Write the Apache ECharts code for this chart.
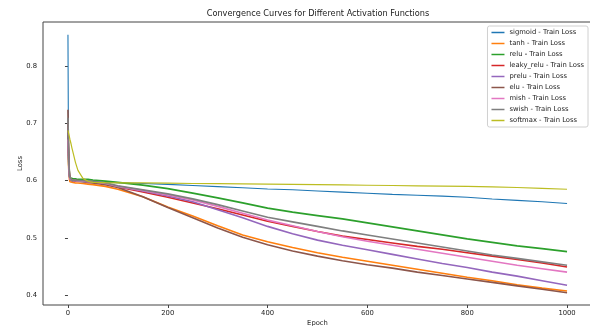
<!DOCTYPE html>
<html>
<head>
<meta charset="utf-8">
<script src="https://cdn.jsdelivr.net/npm/echarts@6.0.0/dist/echarts.min.js"></script>
<style>
html,body{margin:0;padding:0;background:#fff;}
#chart{width:590px;height:326px;}
</style>
</head>
<body>
<div id="chart"></div>
<script>
// ---- data ----
const epochs = [0,1,2,3,4,6,8,10,15,20,30,40,50,75,100,150,200,250,300,350,400,450,500,550,600,650,700,750,800,850,900,950,1000];

const sigmoid = [0.855,0.660,0.615,0.605,0.602,0.600,0.600,0.599,0.599,0.599,0.598,0.598,0.598,0.597,0.5965,0.595,0.5935,0.5915,0.5895,0.5875,0.5855,0.584,0.582,0.580,0.578,0.576,0.5745,0.573,0.571,0.568,0.5655,0.563,0.560];
const tanh = [0.660,0.630,0.612,0.602,0.598,0.597,0.597,0.597,0.596,0.596,0.595,0.594,0.593,0.590,0.585,0.572,0.554,0.538,0.521,0.505,0.493,0.483,0.474,0.466,0.459,0.452,0.445,0.438,0.431,0.425,0.418,0.412,0.407];
const relu = [0.680,0.645,0.622,0.610,0.605,0.603,0.603,0.603,0.603,0.602,0.602,0.602,0.601,0.599,0.597,0.592,0.586,0.578,0.570,0.561,0.552,0.545,0.539,0.533,0.526,0.519,0.512,0.505,0.498,0.492,0.486,0.481,0.476];
const leakyRelu = [0.700,0.655,0.625,0.610,0.604,0.602,0.601,0.601,0.600,0.600,0.599,0.598,0.597,0.594,0.589,0.580,0.571,0.561,0.551,0.540,0.529,0.520,0.511,0.503,0.497,0.491,0.485,0.480,0.474,0.468,0.462,0.456,0.449];
const prelu = [0.690,0.648,0.622,0.608,0.603,0.601,0.600,0.600,0.600,0.599,0.599,0.598,0.598,0.595,0.590,0.582,0.573,0.563,0.549,0.535,0.520,0.507,0.496,0.487,0.479,0.471,0.463,0.455,0.448,0.440,0.433,0.425,0.417];
const elu = [0.724,0.665,0.630,0.612,0.604,0.601,0.600,0.600,0.599,0.599,0.598,0.597,0.596,0.593,0.588,0.572,0.553,0.535,0.517,0.501,0.488,0.477,0.468,0.460,0.453,0.447,0.440,0.434,0.428,0.422,0.416,0.410,0.404];
const mish = [0.672,0.640,0.618,0.607,0.603,0.601,0.600,0.600,0.600,0.599,0.599,0.598,0.598,0.595,0.590,0.583,0.575,0.566,0.555,0.543,0.531,0.521,0.511,0.502,0.494,0.487,0.480,0.473,0.466,0.459,0.452,0.446,0.440];
const swish = [0.710,0.660,0.628,0.611,0.605,0.602,0.601,0.601,0.601,0.600,0.600,0.599,0.599,0.596,0.591,0.584,0.577,0.568,0.558,0.547,0.536,0.528,0.520,0.512,0.505,0.498,0.491,0.484,0.477,0.470,0.464,0.458,0.452];
const softmax = [0.688,0.684,0.680,0.676,0.672,0.665,0.657,0.650,0.632,0.618,0.604,0.599,0.597,0.5965,0.5962,0.596,0.5955,0.595,0.5948,0.5944,0.594,0.5935,0.593,0.5925,0.592,0.5915,0.591,0.5905,0.590,0.589,0.588,0.5865,0.585];

const seriesNames = ['sigmoid - Train Loss','tanh - Train Loss','relu - Train Loss','leaky_relu - Train Loss','prelu - Train Loss','elu - Train Loss','mish - Train Loss','swish - Train Loss','softmax - Train Loss'];
const seriesValues = [sigmoid, tanh, relu, leakyRelu, prelu, elu, mish, swish, softmax];
const colors = ['#1f77b4','#ff7f0e','#2ca02c','#d62728','#9467bd','#8c564b','#e377c2','#7f7f7f','#bcbd22'];
const lineWidths = [1.1, 1.6, 1.8, 1.6, 1.6, 1.6, 1.6, 1.7, 1.2];

const xTicks = [0,200,400,600,800,1000];
const yTicks = [0.4,0.5,0.6,0.7,0.8];

const FONT = 'DejaVu Sans';
const chart = echarts.init(document.getElementById('chart'), null, {renderer:'canvas'});

const series = seriesNames.map((name, i) => ({
  name: name,
  type: 'line',
  data: epochs.map((e, j) => [e, seriesValues[i][j]]),
  symbol: 'none',
  showSymbol: false,
  lineStyle: {width: lineWidths[i], color: colors[i]},
  itemStyle: {color: colors[i]},
  animation: false,
  z: 2 + i
}));

chart.setOption({
  animation: false,
  color: colors,
  title: {
    text: 'Convergence Curves for Different Activation Functions',
    left: 318, top: 10, padding: 0, textAlign: 'center',
    textStyle: {fontFamily: FONT, fontSize: 8.2, fontWeight: 'normal', color: '#222'}
  },
  grid: {
    left: 43, top: 22, right: -2, bottom: 21,
    outerBoundsMode: 'none', containLabel: false,
    show: true, borderColor: '#444', borderWidth: 1, backgroundColor: 'transparent'
  },
  legend: {
    orient: 'vertical', right: 2, top: 26,
    padding: [2, 4, 2, 4], itemGap: 2,
    itemWidth: 13, itemHeight: 1.5, icon: 'rect',
    backgroundColor: '#fff', borderColor: '#d0d0d0', borderWidth: 1, borderRadius: 2,
    textStyle: {fontFamily: FONT, fontSize: 6.8, color: '#222', lineHeight: 9},
    data: seriesNames
  },
  xAxis: {
    type: 'value', min: -50, max: 1050,
    name: 'Epoch', nameLocation: 'middle', nameGap: 15, nameMoveOverlap: false,
    nameTextStyle: {fontFamily: FONT, fontSize: 6.8, color: '#222'},
    axisLine: {show: false},
    axisTick: {show: true, length: 3, customValues: xTicks, lineStyle: {color: '#444'}},
    axisLabel: {customValues: xTicks, fontFamily: FONT, fontSize: 6.8, color: '#222', margin: 5,
      formatter: v => String(v)},
    splitLine: {show: false}
  },
  yAxis: {
    type: 'value', min: 0.3825, max: 0.8775,
    name: 'Loss', nameLocation: 'middle', nameGap: 19, nameMoveOverlap: false,
    nameTextStyle: {fontFamily: FONT, fontSize: 6.8, color: '#222'},
    axisLine: {show: false},
    axisTick: {show: true, length: 3, customValues: yTicks, lineStyle: {color: '#444'}},
    axisLabel: {customValues: yTicks, fontFamily: FONT, fontSize: 6.8, color: '#222', margin: 6,
      formatter: v => v.toFixed(1)},
    splitLine: {show: false}
  },
  series: series
});
</script>
</body>
</html>
